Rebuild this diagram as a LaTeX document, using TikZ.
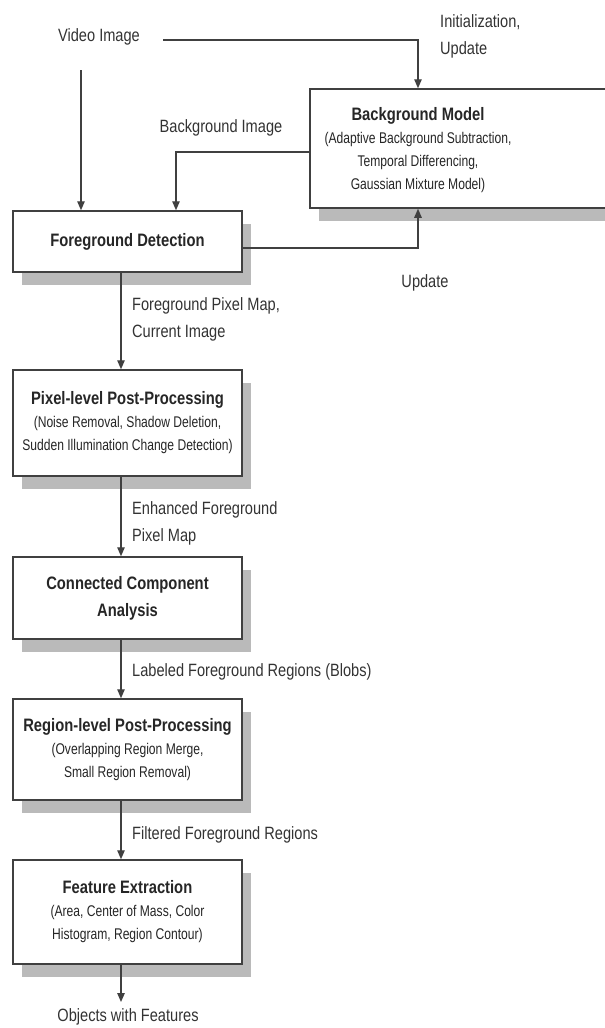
\documentclass[tikz,border=0pt]{standalone}
\usepackage{fontspec}
\setmainfont{Liberation Sans}[FakeStretch=0.82]
\newfontfamily\subfont{Liberation Sans}[FakeStretch=0.78]
\usetikzlibrary{arrows.meta,shadows}

\tikzset{
  box/.style={draw=black!75, line width=1.5pt, fill=white, minimum width=229pt,
    drop shadow={shadow xshift=9pt, shadow yshift=-13pt, fill=black!27, opacity=1}},
  boxtext/.style={align=center, inner sep=0pt, text=black!85,
    font=\subfont\fontsize{15.5}{23}\selectfont},
  flow/.style={draw=black!75, line width=1.2pt, -{Triangle[length=9pt,width=7.5pt]}},
  lbl/.style={align=left, inner sep=0pt, text=black!80,
    font=\fontsize{17.8}{27}\selectfont},
}
\newcommand{\ttl}[1]{{\rmfamily\bfseries\fontsize{18}{23}\selectfont #1}}

\begin{document}
\begin{tikzpicture}[x=1pt, y=-1pt]
  \useasboundingbox (0,0) rectangle (605,1028);
  \clip (0,0) rectangle (605,1028);

  % boxes
  \node[box, minimum width=320pt, minimum height=119pt, anchor=west] (bgm) at (309,148.5) {};
  \node[boxtext] (bgmtxt) at (418,150.5)
    {\ttl{Background Model}\\(Adaptive Background Subtraction,\\Temporal Differencing,\\Gaussian Mixture Model)};
  \node[box, minimum height=61pt, boxtext] (fg) at (127.5,241.5) {\ttl{Foreground Detection}};
  \node[box, minimum height=106pt, boxtext] (pp) at (127.5,423)
    {\ttl{Pixel-level Post-Processing}\\(Noise Removal, Shadow Deletion,\\Sudden Illumination Change Detection)};
  \node[box, minimum height=82pt, boxtext, font=\rmfamily\bfseries\fontsize{18}{27}\selectfont] (cca) at (127.5,598)
    {Connected Component\\Analysis};
  \node[box, minimum height=101pt, boxtext] (rp) at (127.5,749.5)
    {\ttl{Region-level Post-Processing}\\(Overlapping Region Merge,\\Small Region Removal)};
  \node[box, minimum height=104pt, boxtext] (fe) at (127.5,912)
    {\ttl{Feature Extraction}\\(Area, Center of Mass, Color\\Histogram, Region Contour)};

  % labels
  \node[lbl] (video) at (99,37) {Video Image};
  \node[lbl, anchor=west] (init) at (440,36) {Initialization,\\Update};
  \node[lbl] (bgimg) at (221,128) {Background Image};
  \node[lbl] (upd) at (425,283) {Update};
  \node[lbl, anchor=west] (fpm) at (132,319) {Foreground Pixel Map,\\Current Image};
  \node[lbl, anchor=west] (efpm) at (132,523.5) {Enhanced Foreground\\Pixel Map};
  \node[lbl, anchor=west] (lfr) at (132,672) {Labeled Foreground Regions (Blobs)};
  \node[lbl, anchor=west] (ffr) at (132,835) {Filtered Foreground Regions};
  \node[lbl] (objs) at (128,1017) {Objects with Features};

  % connectors
  \coordinate (vin) at (81,70);
  \coordinate (vout) at (163,40);
  \coordinate (oend) at (121,1002);
  \draw[flow] (vin) -- (vin |- fg.north);
  \draw[flow] (vout) -| (bgmtxt |- bgm.north);
  \draw[flow] ([yshift=-3.5pt]bgm.west) -| ([xshift=48.5pt]fg.north);
  \draw[flow] ([yshift=-6.5pt]fg.east) -| (bgmtxt |- bgm.south);
  \draw[flow] ([xshift=-6.5pt]fg.south) -- ([xshift=-6.5pt]pp.north);
  \draw[flow] ([xshift=-6.5pt]pp.south) -- ([xshift=-6.5pt]cca.north);
  \draw[flow] ([xshift=-6.5pt]cca.south) -- ([xshift=-6.5pt]rp.north);
  \draw[flow] ([xshift=-6.5pt]rp.south) -- ([xshift=-6.5pt]fe.north);
  \draw[flow] ([xshift=-6.5pt]fe.south) -- (oend);
\end{tikzpicture}
\end{document}
